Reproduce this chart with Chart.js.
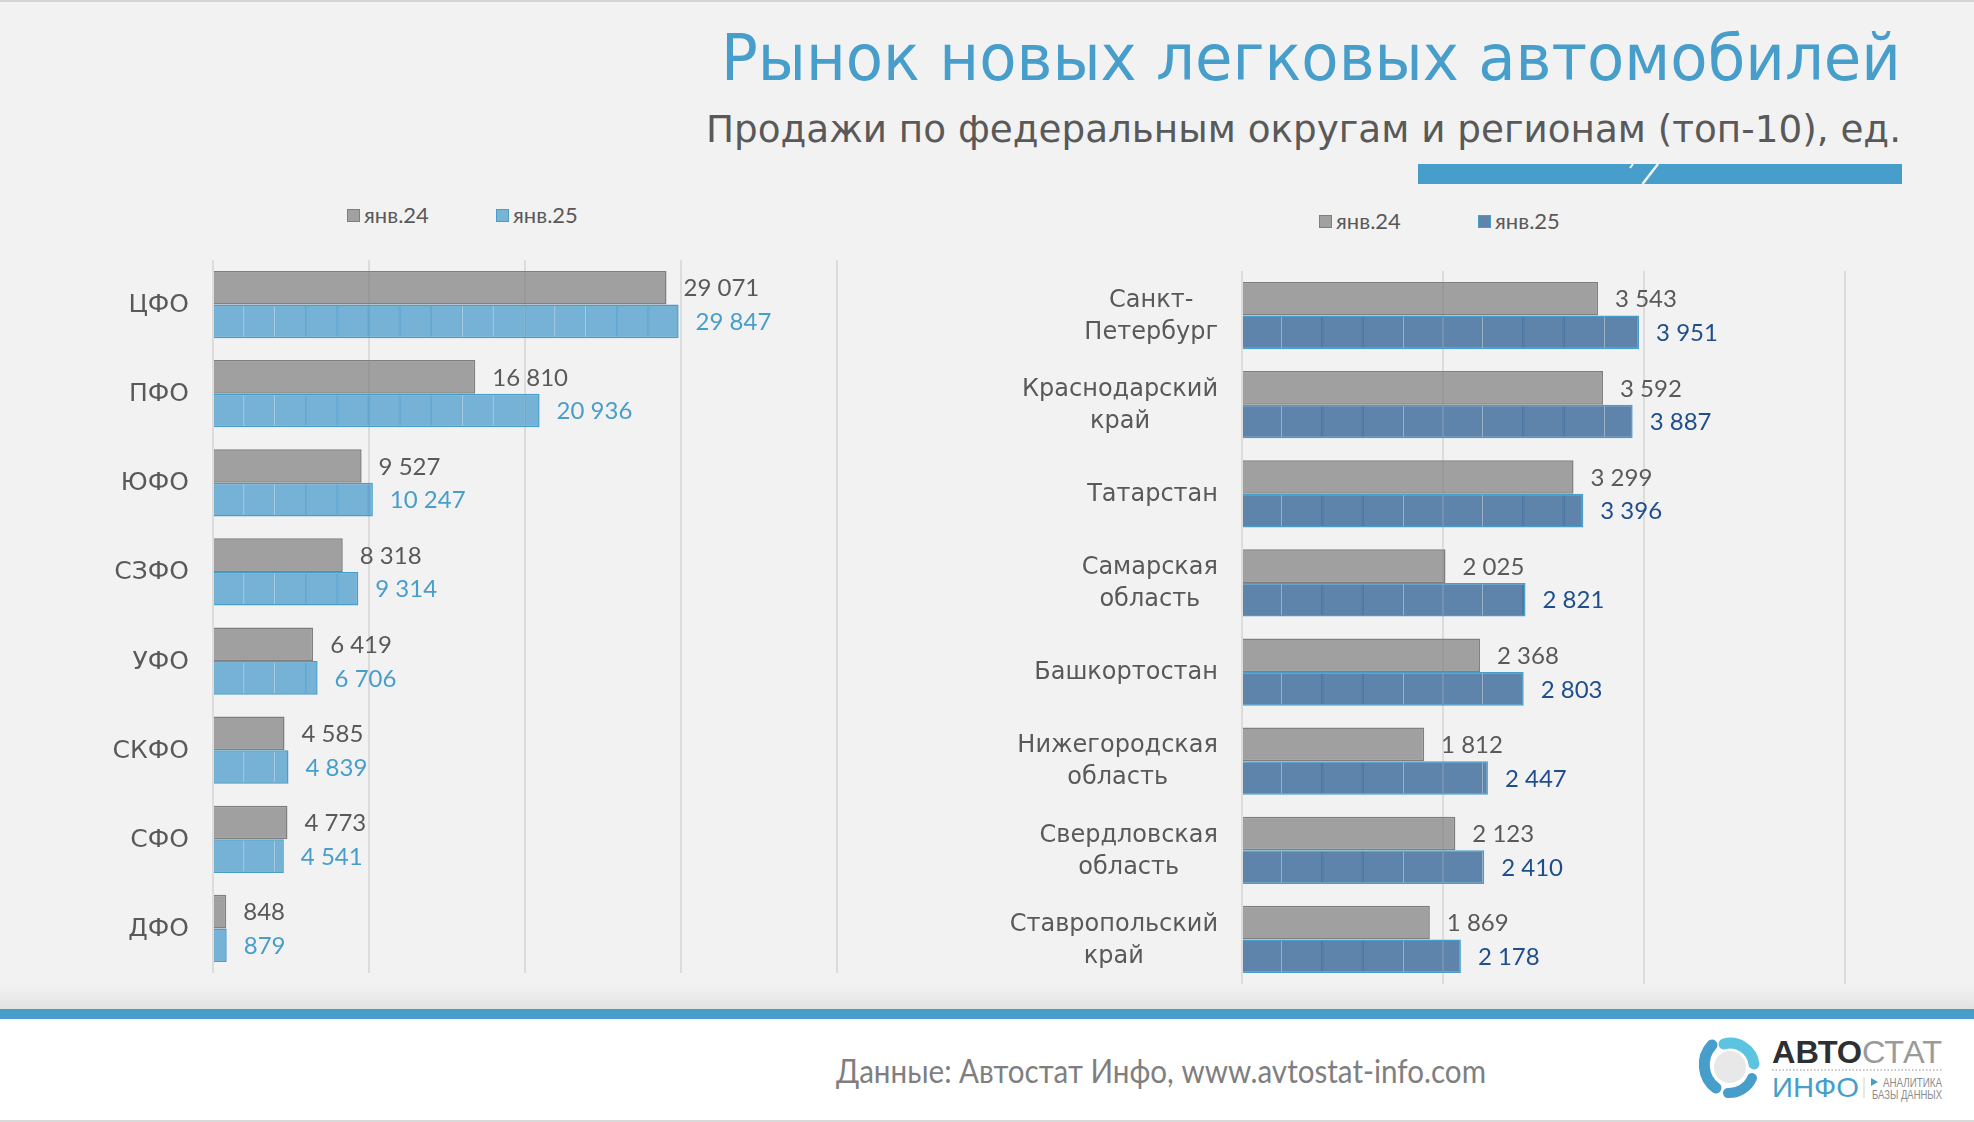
<!DOCTYPE html>
<html lang="ru">
<head>
<meta charset="utf-8">
<title>Рынок новых легковых автомобилей</title>
<script src="https://cdn.jsdelivr.net/npm/chart.js@4"></script>
<style>
  html, body { margin: 0; padding: 0; background: #f2f2f2; }
  body { position: relative; width: 1974px; height: 1122px; overflow: hidden; }
  #page, canvas, .legend { position: absolute; }
  #page { left: 0; top: 0; }
  #chartRegions { left: 0; top: 240px; }
  #chartTop { left: 950px; top: 240px; }
  .legend { font: 22px Lato, sans-serif; color: #595959; white-space: nowrap; height: 26px; line-height: 26px; }
  .legend span { position: absolute; top: 0; }
  .legend i { position: absolute; top: 7px; width: 13px; height: 13px; box-sizing: border-box; }
</style>
</head>
<body>
<svg id="page" width="1974" height="1122" xmlns="http://www.w3.org/2000/svg">
  <defs>
    <linearGradient id="shade" x1="0" y1="0" x2="0" y2="1">
      <stop offset="0" stop-color="#f2f2f2"/>
      <stop offset="1" stop-color="#e2e2e2"/>
    </linearGradient>
  </defs>
  <rect x="0" y="0" width="1974" height="2" fill="#d4d4d4"/>
  <rect x="0" y="985" width="1974" height="24" fill="url(#shade)"/>
  <rect x="0" y="1009" width="1974" height="10" fill="#479ecb"/>
  <rect x="0" y="1019" width="1974" height="102" fill="#ffffff"/>
  <rect x="0" y="1120" width="1974" height="2" fill="#d9d9d9"/>

  <text x="1901" y="80" text-anchor="end" textLength="1180" lengthAdjust="spacingAndGlyphs"
        font-family="DejaVu Sans" font-size="64" fill="#479ecb">Рынок новых легковых автомобилей</text>
  <text x="1901" y="142" text-anchor="end" textLength="1195" lengthAdjust="spacingAndGlyphs"
        font-family="DejaVu Sans" font-size="37" fill="#595959">Продажи по федеральным округам и регионам (топ-10), ед.</text>

  <rect x="1418" y="164" width="484" height="20" fill="#479ecb"/>
  <path d="M1658 164 L1642.5 184" stroke="#f2f2f2" stroke-width="2.5"/>
  <path d="M1633 164 L1630 168" stroke="#f2f2f2" stroke-width="2"/>

  <text x="836" y="1083" textLength="650" lengthAdjust="spacingAndGlyphs"
        font-family="Lato" font-size="32" fill="#7f7f7f">Данные: Автостат Инфо, www.avtostat-info.com</text>

  <circle cx="1730" cy="1067" r="16" fill="#e8e8e8"/>
  <path d="M1724 1044 A24 24 0 0 1 1754 1064" fill="none" stroke="#5cc4e0" stroke-width="11" stroke-linecap="round"/>
  <path d="M1712 1045 A29 29 0 0 0 1716 1088" fill="none" stroke="#479ecb" stroke-width="11" stroke-linecap="round"/>
  <path d="M1752 1078 A25 25 0 0 1 1728 1093" fill="none" stroke="#479ecb" stroke-width="10" stroke-linecap="round"/>
  <text x="1772" y="1063" textLength="170" lengthAdjust="spacingAndGlyphs" font-family="Liberation Sans" font-size="32" font-weight="700" fill="#2d2f33">АВТО<tspan font-weight="400" fill="#9a9a9a">СТАТ</tspan></text>
  <line x1="1772" y1="1070" x2="1942" y2="1070" stroke="#b5b5b5" stroke-width="1.5" stroke-dasharray="1.5 2"/>
  <text x="1772" y="1097" textLength="87" lengthAdjust="spacingAndGlyphs" font-family="Liberation Sans" font-size="28" fill="#479ecb">ИНФО</text>
  <line x1="1864" y1="1077" x2="1864" y2="1098" stroke="#d0d0d0" stroke-width="1"/>
  <path d="M1871 1078 L1878 1082 L1871 1086 Z" fill="#479ecb"/>
  <text x="1883" y="1087" textLength="59" lengthAdjust="spacingAndGlyphs" font-family="Liberation Sans" font-size="12" fill="#8c8c8c">АНАЛИТИКА</text>
  <text x="1872" y="1099" textLength="70" lengthAdjust="spacingAndGlyphs" font-family="Liberation Sans" font-size="12" fill="#8c8c8c">БАЗЫ ДАННЫХ</text>
</svg>

<div class="legend" id="legendRegions" style="left:347px;top:202px"></div>
<canvas id="chartRegions" width="900" height="760"></canvas>
<div class="legend" id="legendTop" style="left:1319px;top:208px"></div>
<canvas id="chartTop" width="976" height="760"></canvas>

<script>
const seriesNames = ['янв.24', 'янв.25'];

const districts = ['ЦФО', 'ПФО', 'ЮФО', 'СЗФО', 'УФО', 'СКФО', 'СФО', 'ДФО'];
const districts24 = [29071, 16810, 9527, 8318, 6419, 4585, 4773, 848];
const districts25 = [29847, 20936, 10247, 9314, 6706, 4839, 4541, 879];

const regions = [
  ['Санкт-', 'Петербург'],
  ['Краснодарский', 'край'],
  ['Татарстан'],
  ['Самарская', 'область'],
  ['Башкортостан'],
  ['Нижегородская', 'область'],
  ['Свердловская', 'область'],
  ['Ставропольский', 'край']
];
const regions24 = [3543, 3592, 3299, 2025, 2368, 1812, 2123, 1869];
const regions25 = [3951, 3887, 3396, 2821, 2803, 2447, 2410, 2178];

const GREY_FILL = 'rgba(127,127,127,0.72)';
const GREY_LINE = '#7f7f7f';
const GREY_TEXT = '#595959';

function fmt(v) {
  return String(v).replace(/\B(?=(\d{3})+$)/g, ' ');
}

// thin vertical stripes that the bars have in the original
function stripes(fill, line, period, startX) {
  const tile = document.createElement('canvas');
  tile.width = Math.round(period * 10);
  tile.height = 4;
  const c = tile.getContext('2d');
  c.fillStyle = fill;
  c.fillRect(0, 0, tile.width, 4);
  for (let i = 0; i < 10; i++) {
    c.clearRect(i * period - 0.75, 0, 1.5, 4);
    c.fillStyle = line;
    c.fillRect(i * period - 0.75, 0, 1.5, 4);
  }
  const pattern = c.createPattern(tile, 'repeat');
  pattern.setTransform(new DOMMatrix().translate(startX, 0));
  return pattern;
}

// value after each bar, category names centred line by line in a block
const textPlugin = {
  id: 'barTexts',
  afterDatasetsDraw(chart, args, opts) {
    const ctx = chart.ctx;
    ctx.save();
    ctx.textBaseline = 'middle';
    ctx.textAlign = 'left';
    ctx.font = '24px Lato';
    chart.data.datasets.forEach((ds, i) => {
      ctx.fillStyle = ds.valueColor;
      chart.getDatasetMeta(i).data.forEach((bar, j) => {
        ctx.fillText(fmt(ds.data[j]), bar.x + 17, bar.y + 1);
      });
    });
    ctx.font = opts.labelSize + 'px "DejaVu Sans"';
    ctx.fillStyle = GREY_TEXT;
    ctx.textAlign = 'center';
    const yScale = chart.scales.y;
    chart.data.labels.forEach((label, i) => {
      const lines = [].concat(label);
      const w = Math.max(...lines.map(l => ctx.measureText(l).width));
      const cx = chart.chartArea.left - opts.labelGap - w / 2;
      const top = yScale.getPixelForTick(i) + 1 - (lines.length - 1) * 16;
      lines.forEach((l, k) => ctx.fillText(l, cx, top + k * 32));
    });
    ctx.restore();
  }
};

const legendColors = { chartRegions: '#78b4d6', chartTop: '#5f84ac' };

function makeChart(id, labels, a, b, max, step, fill25, line25, text25, padding, legendId, legendGap, labelSize) {
  const chart = new Chart(document.getElementById(id), {
    type: 'bar',
    plugins: [textPlugin],
    data: {
      labels: labels,
      datasets: [
        { label: seriesNames[0], data: a, backgroundColor: GREY_FILL, borderColor: GREY_LINE, borderWidth: 1.5, valueColor: GREY_TEXT },
        { label: seriesNames[1], data: b, backgroundColor: fill25, borderColor: line25, borderWidth: 1.5, valueColor: text25 }
      ]
    },
    options: {
      indexAxis: 'y',
      responsive: false,
      animation: false,
      devicePixelRatio: 1,
      layout: { padding: padding },
      datasets: { bar: { categoryPercentage: 0.754, barPercentage: 1 } },
      plugins: {
        legend: { display: false },
        tooltip: { enabled: false },
        barTexts: { labelGap: 24, labelSize: labelSize }
      },
      scales: {
        x: {
          min: 0,
          max: max,
          ticks: { display: false, stepSize: step },
          grid: { color: '#dcdcdc', lineWidth: 2, drawTicks: false },
          border: { display: false }
        },
        y: {
          ticks: { display: false },
          grid: { display: false },
          border: { display: false },
          afterFit(scale) { scale.width = 0; }
        }
      }
    }
  });

  // html legend built from the datasets
  const box = document.getElementById(legendId);
  chart.data.datasets.forEach((ds, i) => {
    const swatch = document.createElement('i');
    swatch.style.left = (i * legendGap) + 'px';
    swatch.style.background = i === 0 ? '#a1a1a1' : legendColors[id];
    swatch.style.border = '1px solid ' + (i === 0 ? GREY_LINE : line25);
    const txt = document.createElement('span');
    txt.style.left = (i * legendGap + 17) + 'px';
    txt.textContent = ds.label;
    box.append(swatch, txt);
  });
  return chart;
}

makeChart('chartRegions', districts, districts24, districts25, 40000, 10000,
  stripes('rgba(68,153,202,0.72)', 'rgba(68,153,202,0.78)', 31.1, 213),
  '#479ecb', '#479ecb', { left: 213, top: 20, right: 63, bottom: 27 }, 'legendRegions', 149, 25);

makeChart('chartTop', regions, regions24, regions25, 6000, 2000,
  stripes('rgba(32,85,142,0.7)', 'rgba(32,85,142,0.75)', 40.2, 292),
  '#479ecb', '#1f4e8c', { left: 292, top: 31, right: 81, bottom: 16 }, 'legendTop', 159, 24);
</script>
</body>
</html>
